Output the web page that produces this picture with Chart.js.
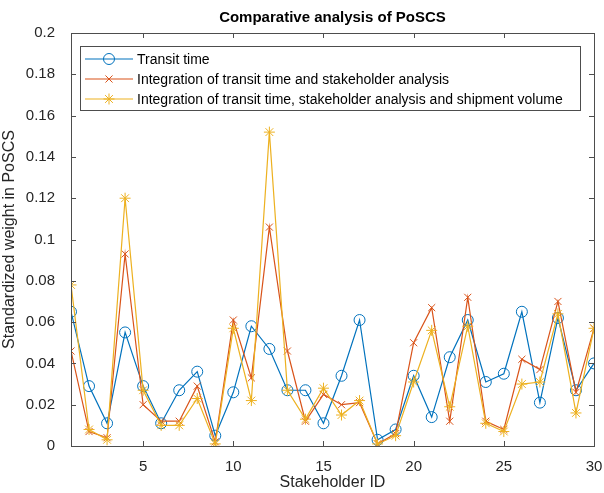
<!DOCTYPE html>
<html>
<head>
<meta charset="utf-8">
<script src="https://cdn.jsdelivr.net/npm/chart.js@4/dist/chart.umd.min.js"></script>
<style>
  html, body { margin: 0; padding: 0; background: #fff; }
  #wrap { width: 604px; height: 493px; }
</style>
</head>
<body>
<div id="wrap"><canvas id="poscs-chart" width="604" height="493"></canvas></div>
<script>
const stakeholderIds = [1, 2, 3, 4, 5, 6, 7, 8, 9, 10, 11, 12, 13, 14, 15, 16, 17, 18, 19, 20, 21, 22, 23, 24, 25, 26, 27, 28, 29, 30];

const transitTime = [0.065, 0.029, 0.011, 0.055, 0.029, 0.011, 0.027, 0.036, 0.005, 0.026,
  0.058, 0.047, 0.027, 0.027, 0.011, 0.034, 0.061, 0.003, 0.008, 0.034,
  0.014, 0.043, 0.061, 0.031, 0.035, 0.065, 0.021, 0.062, 0.027, 0.040];

const transitStakeholder = [0.046, 0.007, 0.004, 0.093, 0.020, 0.012, 0.012, 0.029, 0.002, 0.061,
  0.033, 0.106, 0.046, 0.012, 0.025, 0.020, 0.021, 0.001, 0.006, 0.050,
  0.067, 0.012, 0.072, 0.012, 0.008, 0.042, 0.037, 0.070, 0.026, 0.057];

const transitStakeholderVolume = [0.078, 0.008, 0.003, 0.120, 0.027, 0.010, 0.010, 0.023, 0.001, 0.057,
  0.022, 0.152, 0.027, 0.013, 0.028, 0.015, 0.022, 0.001, 0.005, 0.031,
  0.056, 0.019, 0.058, 0.011, 0.007, 0.030, 0.031, 0.064, 0.016, 0.057];

const seriesNames = [
  "Transit time",
  "Integration of transit time and stakeholder analysis",
  "Integration of transit time, stakeholder analysis and shipment volume"
];

const xTickValues = [5, 10, 15, 20, 25, 30];
const yTickValues = [0, 0.02, 0.04, 0.06, 0.08, 0.1, 0.12, 0.14, 0.16, 0.18, 0.2];
const yTickLabels = ["0", "0.02", "0.04", "0.06", "0.08", "0.1", "0.12", "0.14", "0.16", "0.18", "0.2"];

const chartTitle = "Comparative analysis of PoSCS";
const xTitle = "Stakeholder ID";
const yTitle = "Standardized weight in PoSCS";

const FONT = "'Liberation Sans', Arial, Helvetica, sans-serif";
const AXIS_COLOR = "#262626";

function toPoints(values) {
  return values.map(function (v, i) {
    return { x: stakeholderIds[i], y: v };
  });
}

// draw a matlab-like marker
function drawMarker(ctx, style, x, y, r, color) {
  ctx.save();
  ctx.strokeStyle = color;
  ctx.lineWidth = 1;
  ctx.beginPath();
  if (style === "circle") {
    ctx.arc(x, y, r, 0, Math.PI * 2);
  } else {
    const d = r * Math.SQRT1_2;
    ctx.moveTo(x - d, y - d); ctx.lineTo(x + d, y + d);
    ctx.moveTo(x - d, y + d); ctx.lineTo(x + d, y - d);
    if (style === "star") {
      ctx.moveTo(x - r, y); ctx.lineTo(x + r, y);
      ctx.moveTo(x, y - r); ctx.lineTo(x, y + r);
    }
  }
  ctx.stroke();
  ctx.restore();
}

const matlabFrame = {
  id: "matlabFrame",
  afterDatasetsDraw(chart) {
    const ctx = chart.ctx;
    const a = chart.chartArea;
    const xs = chart.scales.x;
    const ys = chart.scales.y;
    const tick = 5;

    ctx.save();
    ctx.strokeStyle = "#4d4d4d";
    ctx.lineWidth = 1;
    ctx.strokeRect(Math.round(a.left) + 0.5, Math.round(a.top) + 0.5,
      Math.round(a.right - a.left), Math.round(a.bottom - a.top));

    ctx.beginPath();
    xs.ticks.forEach(function (t) {
      const px = Math.round(xs.getPixelForValue(t.value)) + 0.5;
      ctx.moveTo(px, a.bottom); ctx.lineTo(px, a.bottom - tick);
      ctx.moveTo(px, a.top); ctx.lineTo(px, a.top + tick);
    });
    ys.ticks.forEach(function (t) {
      const py = Math.round(ys.getPixelForValue(t.value)) + 0.5;
      ctx.moveTo(a.left, py); ctx.lineTo(a.left + tick, py);
      ctx.moveTo(a.right, py); ctx.lineTo(a.right - tick, py);
    });
    ctx.stroke();

    // legend box in the upper left of the axes
    const lx = a.left + 9;
    const ly = a.top + 13;
    const lw = 500;
    const lh = 64;
    ctx.fillStyle = "#fff";
    ctx.fillRect(lx, ly, lw, lh);
    ctx.strokeStyle = "#4d4d4d";
    ctx.strokeRect(lx + 0.5, ly + 0.5, lw, lh);

    ctx.font = "14px " + FONT;
    ctx.textBaseline = "middle";
    ctx.textAlign = "left";
    chart.data.datasets.forEach(function (ds, i) {
      const yy = ly + 13 + i * 20;
      ctx.strokeStyle = ds.borderColor;
      ctx.lineWidth = 1.2;
      ctx.beginPath();
      ctx.moveTo(lx + 5, yy);
      ctx.lineTo(lx + 53, yy);
      ctx.stroke();
      drawMarker(ctx, ds.pointStyle, lx + 29, yy, ds.pointRadius, ds.borderColor);
      ctx.fillStyle = "#000";
      ctx.fillText(ds.label, lx + 57, yy + 1);
    });

    // title centred over the axes
    ctx.font = "bold 15px " + FONT;
    ctx.textAlign = "center";
    ctx.fillStyle = "#000";
    ctx.fillText(chartTitle, (a.left + a.right) / 2, 18);
    ctx.restore();
  }
};

const colors = ["#0072bd", "#d95319", "#edb120"];
const styles = ["circle", "crossRot", "star"];
const radii = [5.5, 5, 5.5];
const allSeries = [transitTime, transitStakeholder, transitStakeholderVolume];

const ctx = document.getElementById("poscs-chart").getContext("2d");

new Chart(ctx, {
  type: "line",
  data: {
    datasets: allSeries.map(function (values, i) {
      return {
        label: seriesNames[i],
        data: toPoints(values),
        borderColor: colors[i],
        backgroundColor: "rgba(0,0,0,0)",
        pointBorderColor: colors[i],
        pointBackgroundColor: "rgba(0,0,0,0)",
        pointStyle: styles[i],
        pointRadius: radii[i],
        pointBorderWidth: 1,
        borderWidth: 1.2,
        tension: 0,
        fill: false,
        order: 3 - i
      };
    })
  },
  options: {
    responsive: false,
    animation: false,
    events: [],
    layout: {
      padding: { top: 33, right: 10, left: 0, bottom: 0 }
    },
    plugins: {
      legend: { display: false },
      tooltip: { enabled: false },
      title: { display: false }
    },
    scales: {
      x: {
        type: "linear",
        min: 1,
        max: 30,
        afterBuildTicks: function (scale) {
          scale.ticks = xTickValues.map(function (v) { return { value: v }; });
        },
        afterFit: function (scale) {
          scale.height = 47;
          scale.paddingLeft = 0;
          scale.paddingRight = 0;
        },
        grid: { display: false },
        border: { display: false },
        ticks: {
          color: AXIS_COLOR,
          padding: 4,
          maxRotation: 0,
          autoSkip: false,
          font: { family: FONT, size: 15 },
          callback: function (value) {
            return String(value);
          }
        },
        title: {
          display: true,
          text: xTitle,
          color: AXIS_COLOR,
          padding: { top: 0, bottom: 1 },
          font: { family: FONT, size: 16 }
        }
      },
      y: {
        type: "linear",
        min: 0,
        max: 0.2,
        afterBuildTicks: function (scale) {
          scale.ticks = yTickValues.map(function (v) { return { value: v }; });
        },
        afterFit: function (scale) {
          scale.width = 71;
          scale.paddingTop = 0;
          scale.paddingBottom = 0;
        },
        grid: { display: false },
        border: { display: false },
        ticks: {
          color: AXIS_COLOR,
          padding: 8,
          autoSkip: false,
          font: { family: FONT, size: 15 },
          callback: function (value, index) {
            return yTickLabels[index];
          }
        },
        title: {
          display: true,
          text: yTitle,
          color: AXIS_COLOR,
          padding: { top: 0, bottom: 4 },
          font: { family: FONT, size: 16 }
        }
      }
    }
  },
  plugins: [matlabFrame]
});
</script>
</body>
</html>
